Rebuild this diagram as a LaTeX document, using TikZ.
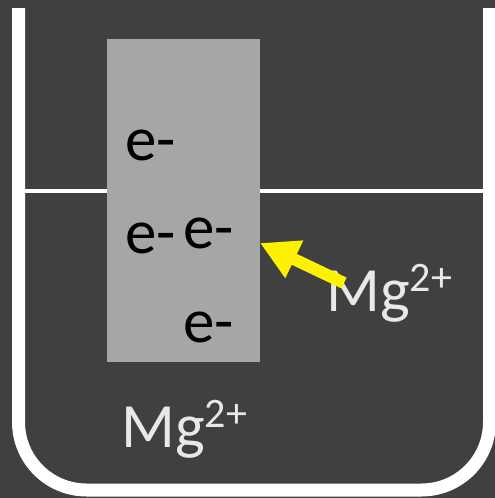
\documentclass[tikz,border=0pt]{standalone}
\usepackage{fontspec}
\setmainfont{Carlito}
\usepackage{tikz}
\usetikzlibrary{arrows.meta,positioning,calc}
\usepackage{xcolor}
\definecolor{bgdark}{HTML}{404040}
\definecolor{rodgray}{HTML}{A6A6A6}
\definecolor{ionwhite}{HTML}{E8E8E8}
\newcommand{\ionsup}[1]{\raisebox{20pt}{\fontsize{42}{50}\selectfont #1}}

\begin{document}
\begin{tikzpicture}[x=1pt,y=-1pt,
every node/.style={inner sep=0pt,font=\fontsize{63}{75}\selectfont},
electron/.style={anchor=base west,text=black},ion/.style={anchor=base west,text=ionwhite},
wall/.style={draw=white,line width=13pt},
rodbox/.style={fill=rodgray,minimum width=153pt,minimum height=323pt,anchor=north west},
flow/.style={draw=yellow,line width=12pt,-{Triangle[width=39pt,length=38pt]}}]
\fill[bgdark] (0,0) rectangle (495,498);
\useasboundingbox (0,0) rectangle (495,498);
% beaker and liquid level
\draw[white,line width=4pt] (25,191) -- (483,191);
\draw[wall,rounded corners=68pt] (18.5,8) -- (18.5,490) -- (489.5,490) -- (489.5,8);
% electrode
\node[rodbox] (rod) at (107,39) {};
\node[electron] (e1) at (125,160) {e-};
\node[electron] (e2) at (125,253) {e-};
\node[electron] (e3) at (183,248) {e-};
\node[electron] (e4) at (183,342) {e-};
% ions
\node[ion] (mgright) at (326,311) {Mg\ionsup{2+}};
\node[ion] (mgbottom) at (121,447) {Mg\ionsup{2+}};
\coordinate (tail) at (344,283);
\coordinate (tip) at (260,243);
\draw[flow] (tail) -- (tip);
\end{tikzpicture}
\end{document}
